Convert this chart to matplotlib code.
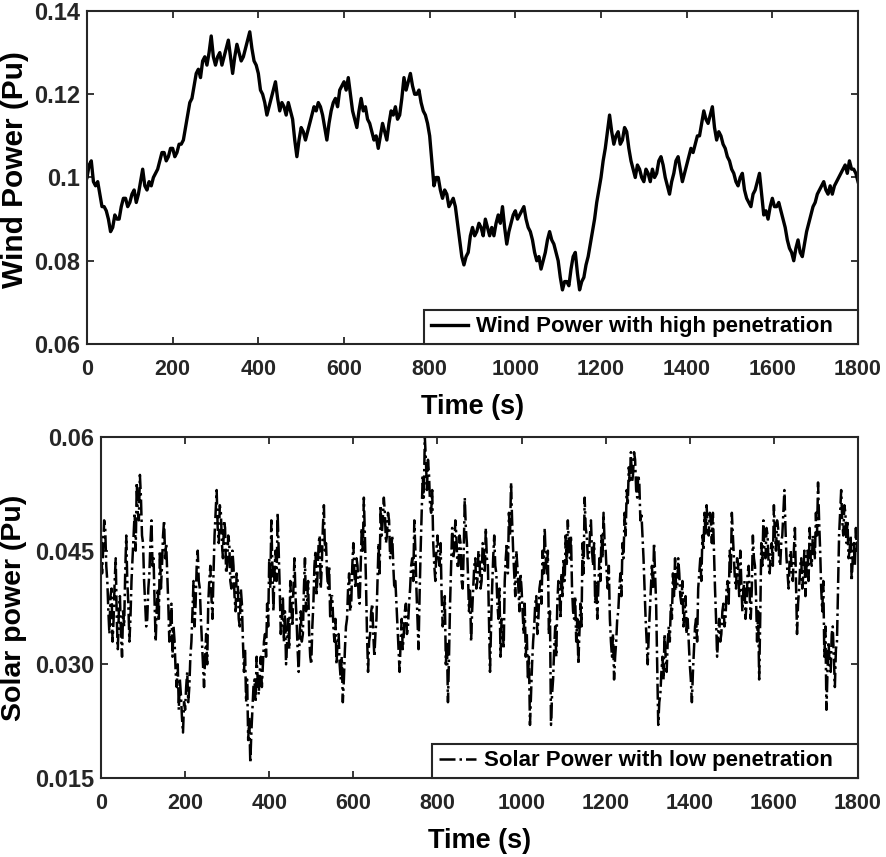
import numpy as np
import matplotlib
matplotlib.use("Agg")
import matplotlib.pyplot as plt

plt.rcParams['font.family'] = ['Liberation Sans', 'DejaVu Sans']
plt.rcParams['font.weight'] = 'bold'

# wind power: values every 10 s (t = 0, 10, ...)
wind = [0.100, 0.104, 0.098, 0.096, 0.093, 0.090, 0.088, 0.090, 0.093, 0.095,
        0.094, 0.097, 0.096, 0.102, 0.097, 0.098, 0.101, 0.104, 0.106, 0.105,
        0.107, 0.106, 0.108, 0.112, 0.118, 0.122, 0.126, 0.128, 0.127, 0.134,
        0.127, 0.130, 0.129, 0.133, 0.125, 0.132, 0.128, 0.131, 0.135, 0.128,
        0.125, 0.120, 0.115, 0.119, 0.123, 0.116, 0.117, 0.118, 0.114, 0.105,
        0.112, 0.109, 0.113, 0.117, 0.118, 0.115, 0.109, 0.116, 0.119, 0.121,
        0.123, 0.124, 0.116, 0.112, 0.119, 0.117, 0.113, 0.109, 0.107, 0.113,
        0.109, 0.116, 0.117, 0.115, 0.124, 0.123, 0.122, 0.120, 0.118, 0.115,
        0.110, 0.098, 0.100, 0.095, 0.096, 0.094, 0.093, 0.085, 0.079, 0.082,
        0.088, 0.087, 0.088, 0.090, 0.086, 0.086, 0.091, 0.093, 0.084, 0.089,
        0.092, 0.091, 0.093, 0.088, 0.085, 0.080, 0.078, 0.082, 0.087, 0.084,
        0.080, 0.073, 0.075, 0.078, 0.082, 0.073, 0.076, 0.081, 0.087, 0.094,
        0.100, 0.107, 0.115, 0.108, 0.111, 0.109, 0.111, 0.104, 0.100, 0.102,
        0.099, 0.101, 0.102, 0.101, 0.105, 0.100, 0.096, 0.101, 0.105, 0.099,
        0.103, 0.107, 0.108, 0.110, 0.116, 0.113, 0.117, 0.109, 0.110, 0.107,
        0.104, 0.101, 0.098, 0.101, 0.095, 0.093, 0.097, 0.101, 0.091, 0.090,
        0.095, 0.093, 0.092, 0.088, 0.083, 0.080, 0.085, 0.081, 0.087, 0.091,
        0.094, 0.097, 0.099, 0.096, 0.096, 0.099, 0.101, 0.103, 0.104, 0.102,
        0.099]
# wind power in between (t = 5, 15, ...)
wind_mid = [0.103, 0.099, 0.099, 0.093, 0.092, 0.087, 0.091, 0.090, 0.095, 0.093,
            0.096, 0.094, 0.099, 0.098, 0.099, 0.100, 0.102, 0.106, 0.104, 0.107,
            0.105, 0.108, 0.109, 0.115, 0.119, 0.125, 0.124, 0.129, 0.130, 0.129,
            0.129, 0.127, 0.131, 0.129, 0.129, 0.130, 0.129, 0.133, 0.131, 0.127,
            0.121, 0.118, 0.117, 0.121, 0.119, 0.118, 0.115, 0.116, 0.109, 0.109,
            0.111, 0.111, 0.115, 0.116, 0.117, 0.112, 0.113, 0.118, 0.117, 0.122,
            0.121, 0.120, 0.114, 0.116, 0.116, 0.114, 0.111, 0.110, 0.110, 0.111,
            0.113, 0.115, 0.114, 0.119, 0.121, 0.125, 0.120, 0.121, 0.116, 0.113,
            0.104, 0.100, 0.097, 0.097, 0.093, 0.095, 0.089, 0.081, 0.081, 0.086,
            0.086, 0.089, 0.086, 0.088, 0.088, 0.089, 0.089, 0.088, 0.087, 0.091,
            0.090, 0.092, 0.090, 0.087, 0.082, 0.081, 0.080, 0.085, 0.085, 0.082,
            0.076, 0.075, 0.074, 0.081, 0.077, 0.075, 0.079, 0.084, 0.090, 0.097,
            0.104, 0.111, 0.111, 0.110, 0.108, 0.112, 0.107, 0.102, 0.103, 0.100,
            0.102, 0.099, 0.100, 0.104, 0.103, 0.098, 0.099, 0.104, 0.102, 0.101,
            0.105, 0.106, 0.110, 0.113, 0.114, 0.115, 0.112, 0.111, 0.108, 0.105,
            0.102, 0.099, 0.100, 0.097, 0.094, 0.096, 0.099, 0.096, 0.092, 0.093,
            0.093, 0.094, 0.090, 0.085, 0.082, 0.083, 0.082, 0.084, 0.089, 0.093,
            0.096, 0.098, 0.097, 0.098, 0.098, 0.100, 0.102, 0.101, 0.102, 0.101]

# solar power: values every 5 s (t = 0, 5, ...)
solar = [0.047, 0.045, 0.048, 0.041, 0.034, 0.040, 0.036, 0.044, 0.032, 0.039,
         0.031, 0.035, 0.047, 0.038, 0.036, 0.044, 0.050, 0.054, 0.049, 0.052,
         0.046, 0.038, 0.036, 0.042, 0.049, 0.044, 0.033, 0.040, 0.045, 0.043,
         0.049, 0.046, 0.038, 0.035, 0.031, 0.033, 0.027, 0.024, 0.026, 0.021,
         0.024, 0.029, 0.027, 0.033, 0.041, 0.038, 0.045, 0.040, 0.033, 0.027,
         0.034, 0.038, 0.043, 0.036, 0.047, 0.053, 0.046, 0.050, 0.044, 0.048,
         0.043, 0.046, 0.040, 0.043, 0.037, 0.041, 0.035, 0.038, 0.029, 0.025,
         0.020, 0.017, 0.024, 0.028, 0.031, 0.026, 0.031, 0.030, 0.034, 0.038,
         0.044, 0.049, 0.037, 0.045, 0.050, 0.040, 0.036, 0.033, 0.030, 0.036,
         0.041, 0.035, 0.044, 0.036, 0.029, 0.037, 0.034, 0.044, 0.038, 0.034,
         0.030, 0.038, 0.045, 0.042, 0.047, 0.043, 0.051, 0.046, 0.040, 0.036,
         0.039, 0.033, 0.030, 0.034, 0.028, 0.025, 0.032, 0.036, 0.042, 0.038,
         0.046, 0.040, 0.043, 0.038, 0.048, 0.052, 0.041, 0.029, 0.034, 0.038,
         0.031, 0.036, 0.046, 0.051, 0.049, 0.050, 0.047, 0.049, 0.045, 0.043,
         0.041, 0.035, 0.029, 0.036, 0.034, 0.038, 0.035, 0.040, 0.044, 0.049,
         0.040, 0.032, 0.045, 0.055, 0.060, 0.053, 0.055, 0.050, 0.046, 0.041,
         0.047, 0.043, 0.039, 0.036, 0.030, 0.025, 0.038, 0.048, 0.045, 0.047,
         0.043, 0.046, 0.040, 0.052, 0.046, 0.037, 0.033, 0.040, 0.044, 0.041,
         0.044, 0.041, 0.045, 0.048, 0.043, 0.029, 0.040, 0.047, 0.042, 0.036,
         0.031, 0.035, 0.041, 0.046, 0.050, 0.054, 0.045, 0.039, 0.043, 0.037,
         0.040, 0.034, 0.031, 0.028, 0.022, 0.030, 0.035, 0.039, 0.036, 0.041,
         0.045, 0.048, 0.042, 0.034, 0.022, 0.028, 0.035, 0.038, 0.040, 0.042,
         0.044, 0.047, 0.049, 0.044, 0.040, 0.036, 0.033, 0.030, 0.038, 0.046,
         0.052, 0.047, 0.044, 0.049, 0.043, 0.038, 0.036, 0.044, 0.047, 0.050,
         0.045, 0.040, 0.036, 0.031, 0.028, 0.033, 0.037, 0.042, 0.046, 0.050,
         0.053, 0.056, 0.058, 0.055, 0.057, 0.052, 0.054, 0.050, 0.044, 0.036,
         0.030, 0.037, 0.043, 0.046, 0.038, 0.022, 0.026, 0.031, 0.034, 0.029,
         0.035, 0.038, 0.042, 0.044, 0.040, 0.042, 0.038, 0.035, 0.039, 0.036,
         0.030, 0.025, 0.032, 0.036, 0.040, 0.044, 0.047, 0.050, 0.051, 0.047,
         0.049, 0.050, 0.040, 0.031, 0.036, 0.034, 0.038, 0.036, 0.041, 0.045,
         0.050, 0.044, 0.040, 0.043, 0.045, 0.037, 0.041, 0.038, 0.043, 0.036,
         0.047, 0.043, 0.033, 0.028, 0.046, 0.049, 0.044, 0.047, 0.042, 0.046,
         0.051, 0.045, 0.048, 0.043, 0.047, 0.053, 0.044, 0.040, 0.045, 0.041,
         0.048, 0.034, 0.040, 0.044, 0.042, 0.039, 0.045, 0.048, 0.043, 0.046,
         0.050, 0.054, 0.045, 0.037, 0.031, 0.024, 0.033, 0.029, 0.035, 0.027,
         0.033, 0.047, 0.053, 0.047, 0.050, 0.049, 0.045, 0.041, 0.046, 0.048,
         0.047]
# solar power in between (t = 2.5, 7.5, ...)
solar_mid = [0.042, 0.049, 0.043, 0.037, 0.039, 0.033, 0.041, 0.036, 0.037, 0.034,
             0.037, 0.042, 0.041, 0.033, 0.041, 0.047, 0.045, 0.050, 0.055, 0.047,
             0.041, 0.035, 0.040, 0.046, 0.043, 0.038, 0.037, 0.036, 0.040, 0.047,
             0.044, 0.042, 0.033, 0.038, 0.035, 0.029, 0.030, 0.028, 0.023, 0.025,
             0.027, 0.025, 0.031, 0.037, 0.035, 0.043, 0.041, 0.036, 0.030, 0.031,
             0.030, 0.041, 0.039, 0.042, 0.050, 0.048, 0.051, 0.046, 0.049, 0.042,
             0.047, 0.041, 0.045, 0.039, 0.042, 0.036, 0.040, 0.033, 0.032, 0.028,
             0.023, 0.021, 0.027, 0.025, 0.028, 0.029, 0.027, 0.033, 0.031, 0.035,
             0.040, 0.043, 0.042, 0.041, 0.045, 0.034, 0.039, 0.037, 0.033, 0.032,
             0.038, 0.040, 0.039, 0.032, 0.034, 0.033, 0.040, 0.037, 0.041, 0.031,
             0.035, 0.043, 0.039, 0.046, 0.040, 0.048, 0.045, 0.042, 0.043, 0.039,
             0.035, 0.036, 0.033, 0.030, 0.031, 0.028, 0.035, 0.040, 0.037, 0.043,
             0.042, 0.044, 0.039, 0.043, 0.045, 0.047, 0.034, 0.033, 0.037, 0.034,
             0.034, 0.041, 0.042, 0.047, 0.052, 0.046, 0.050, 0.044, 0.047, 0.040,
             0.038, 0.032, 0.033, 0.032, 0.037, 0.034, 0.038, 0.043, 0.041, 0.045,
             0.036, 0.039, 0.050, 0.052, 0.057, 0.057, 0.051, 0.053, 0.043, 0.045,
             0.044, 0.046, 0.035, 0.039, 0.033, 0.031, 0.043, 0.044, 0.049, 0.043,
             0.047, 0.041, 0.045, 0.048, 0.042, 0.040, 0.037, 0.043, 0.040, 0.045,
             0.040, 0.046, 0.042, 0.044, 0.036, 0.035, 0.044, 0.043, 0.038, 0.040,
             0.036, 0.032, 0.044, 0.042, 0.047, 0.049, 0.042, 0.045, 0.040, 0.042,
             0.037, 0.038, 0.034, 0.031, 0.026, 0.033, 0.038, 0.034, 0.040, 0.038,
             0.042, 0.044, 0.045, 0.037, 0.026, 0.032, 0.031, 0.041, 0.036, 0.039,
             0.041, 0.043, 0.046, 0.047, 0.037, 0.039, 0.036, 0.034, 0.035, 0.042,
             0.048, 0.044, 0.047, 0.045, 0.046, 0.041, 0.040, 0.041, 0.044, 0.046,
             0.042, 0.043, 0.033, 0.034, 0.031, 0.036, 0.040, 0.039, 0.044, 0.047,
             0.051, 0.054, 0.054, 0.058, 0.053, 0.055, 0.049, 0.047, 0.040, 0.033,
             0.034, 0.040, 0.040, 0.042, 0.030, 0.025, 0.029, 0.028, 0.031, 0.033,
             0.033, 0.036, 0.039, 0.040, 0.044, 0.039, 0.041, 0.037, 0.034, 0.033,
             0.028, 0.029, 0.035, 0.033, 0.042, 0.041, 0.045, 0.047, 0.048, 0.050,
             0.046, 0.045, 0.036, 0.034, 0.033, 0.037, 0.035, 0.040, 0.038, 0.042,
             0.047, 0.041, 0.044, 0.039, 0.041, 0.040, 0.036, 0.042, 0.039, 0.040,
             0.044, 0.039, 0.037, 0.036, 0.043, 0.045, 0.048, 0.043, 0.045, 0.043,
             0.047, 0.049, 0.044, 0.046, 0.050, 0.048, 0.042, 0.044, 0.042, 0.045,
             0.041, 0.038, 0.043, 0.040, 0.045, 0.043, 0.041, 0.044, 0.047, 0.044,
             0.047, 0.049, 0.040, 0.041, 0.035, 0.029, 0.030, 0.034, 0.031, 0.032,
             0.040, 0.050, 0.049, 0.051, 0.046, 0.044, 0.047, 0.044, 0.043, 0.045]

xticks = [0, 200, 400, 600, 800, 1000, 1200, 1400, 1600, 1800]
wind_yticks = [0.06, 0.08, 0.1, 0.12, 0.14]
wind_ylabels = ['0.06', '0.08', '0.1', '0.12', '0.14']
solar_yticks = [0.015, 0.030, 0.045, 0.06]
solar_ylabels = ['0.015', '0.030', '0.045', '0.06']

# put the in-between samples in time order
wind_t = np.arange(0, 1801, 5)
wind_all = np.empty(len(wind) + len(wind_mid))
wind_all[0::2] = wind
wind_all[1::2] = wind_mid
solar_t = np.arange(0, 1800.1, 2.5)
solar_all = np.empty(len(solar) + len(solar_mid))
solar_all[0::2] = solar
solar_all[1::2] = solar_mid

fig = plt.figure(figsize=(8.86, 8.57), dpi=100)
ax1 = fig.add_axes([87/886, 1-344/857, 771/886, 333/857])
ax2 = fig.add_axes([101/886, 1-778/857, 757/886, 341/857])

ax1.plot(wind_t, wind_all, color='black', lw=2.4,
         label='Wind Power with high penetration   ')
ax2.plot(solar_t, solar_all, color='black', lw=1.8, linestyle='-.',
         label='Solar Power with low penetration   ')

ax1.set_ylim(0.06, 0.14)
ax1.set_yticks(wind_yticks)
ax1.set_yticklabels(wind_ylabels)
ax1.set_ylabel('Wind Power (Pu)', fontsize=21.5, fontweight='bold')

ax2.set_ylim(0.015, 0.06)
ax2.set_yticks(solar_yticks)
ax2.set_yticklabels(solar_ylabels)
ax2.set_ylabel('Solar power (Pu)', fontsize=20.5, fontweight='bold')

for ax in [ax1, ax2]:
    ax.set_xlim(0, 1800)
    ax.set_xticks(xticks)
    ax.set_xlabel('Time (s)', fontsize=19.5, fontweight='bold', labelpad=10)
    ax.tick_params(direction='in', top=True, right=True, length=5, width=1.3,
                   colors='#262626')
    ax.tick_params(axis='x', labelsize=15.5, pad=11)
    ax.tick_params(axis='y', labelsize=17, pad=5)
    for sp in ax.spines.values():
        sp.set_linewidth(1.5)
        sp.set_color('#262626')
    leg = ax.legend(loc='lower right', fontsize=16, borderaxespad=0,
                    fancybox=False, framealpha=1, handlelength=1.7,
                    handletextpad=0.35, borderpad=0.3)
    leg.get_frame().set_edgecolor('#262626')
    leg.get_frame().set_linewidth(1.5)

ax1.yaxis.set_label_coords(-0.075, 0.525)
ax2.yaxis.set_label_coords(-0.098, 0.5)

fig.savefig('out.png', dpi=100)
